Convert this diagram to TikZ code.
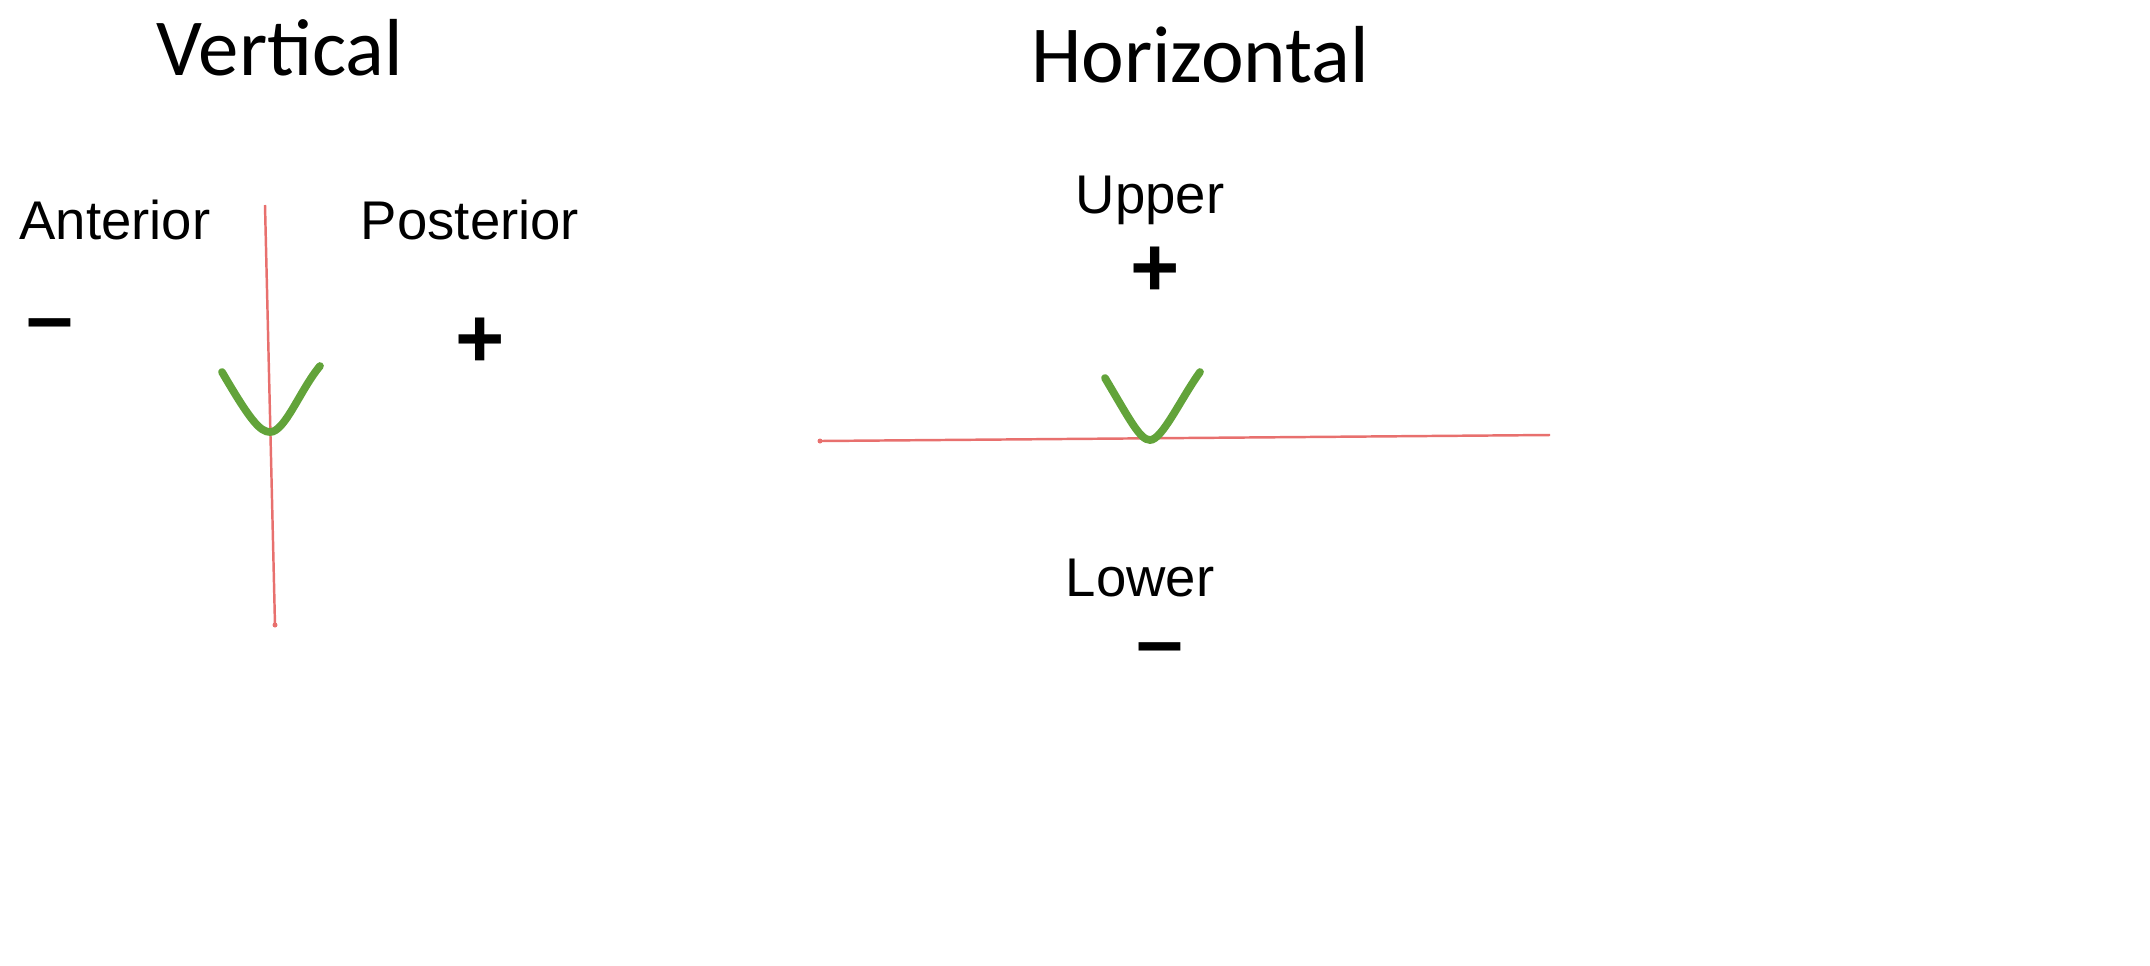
\documentclass[tikz,border=0pt]{standalone}
\usepackage{fontspec}
\setmainfont{Liberation Sans}
\newfontfamily\titlefont{Carlito}
\definecolor{axisred}{HTML}{E8706E}
\definecolor{vgreen}{HTML}{62A33A}
\begin{document}
\begin{tikzpicture}[x=0.01cm,y=-0.01cm,
  title/.style={font=\titlefont\fontsize{23}{26}\selectfont},
  lab/.style={font=\fontsize{15.5}{18}\selectfont},
  sign/.style={font=\fontsize{24}{24}\selectfont\bfseries,inner sep=0pt},
  axis/.style={draw=axisred,line width=0.7pt},
  vee/.style={draw=vgreen,line width=2.2pt,line cap=round}]
\useasboundingbox (0,0) rectangle (2150,966);
\node[title] (tv) at (280,48) {Vertical};
\node[title] (th) at (1200,55) {Horizontal};
\node[lab] (ant) at (115,220) {Anterior};
\node[lab] (post) at (470,220) {Posterior};
\node[sign] (m1) at (50,332) {–};
\node[sign] (p1) at (480,343) {+};
\node[lab] (up) at (1150,200) {Upper};
\node[sign] (p2) at (1155,272) {+};
\node[lab] (low) at (1140,578) {Lower};
\node[sign] (m2) at (1160,656) {–};
\coordinate (vt) at (265,205); \coordinate (vb) at (275,625);
\draw[axis] (vt) -- (vb);
\fill[axisred] (vb) circle (2.5);
\draw[vee] (222,372) .. controls (250,420) and (260,432) .. (270,432) .. controls (285,432) and (300,390) .. (320,366);
\coordinate (hl) at (820,441); \coordinate (hr) at (1550,435);
\draw[axis] (hl) -- (hr);
\fill[axisred] (hl) circle (2.5);
\draw[vee] (1105,378) .. controls (1130,420) and (1140,440) .. (1150,440) .. controls (1162,440) and (1180,400) .. (1200,372);
\end{tikzpicture}
\end{document}
